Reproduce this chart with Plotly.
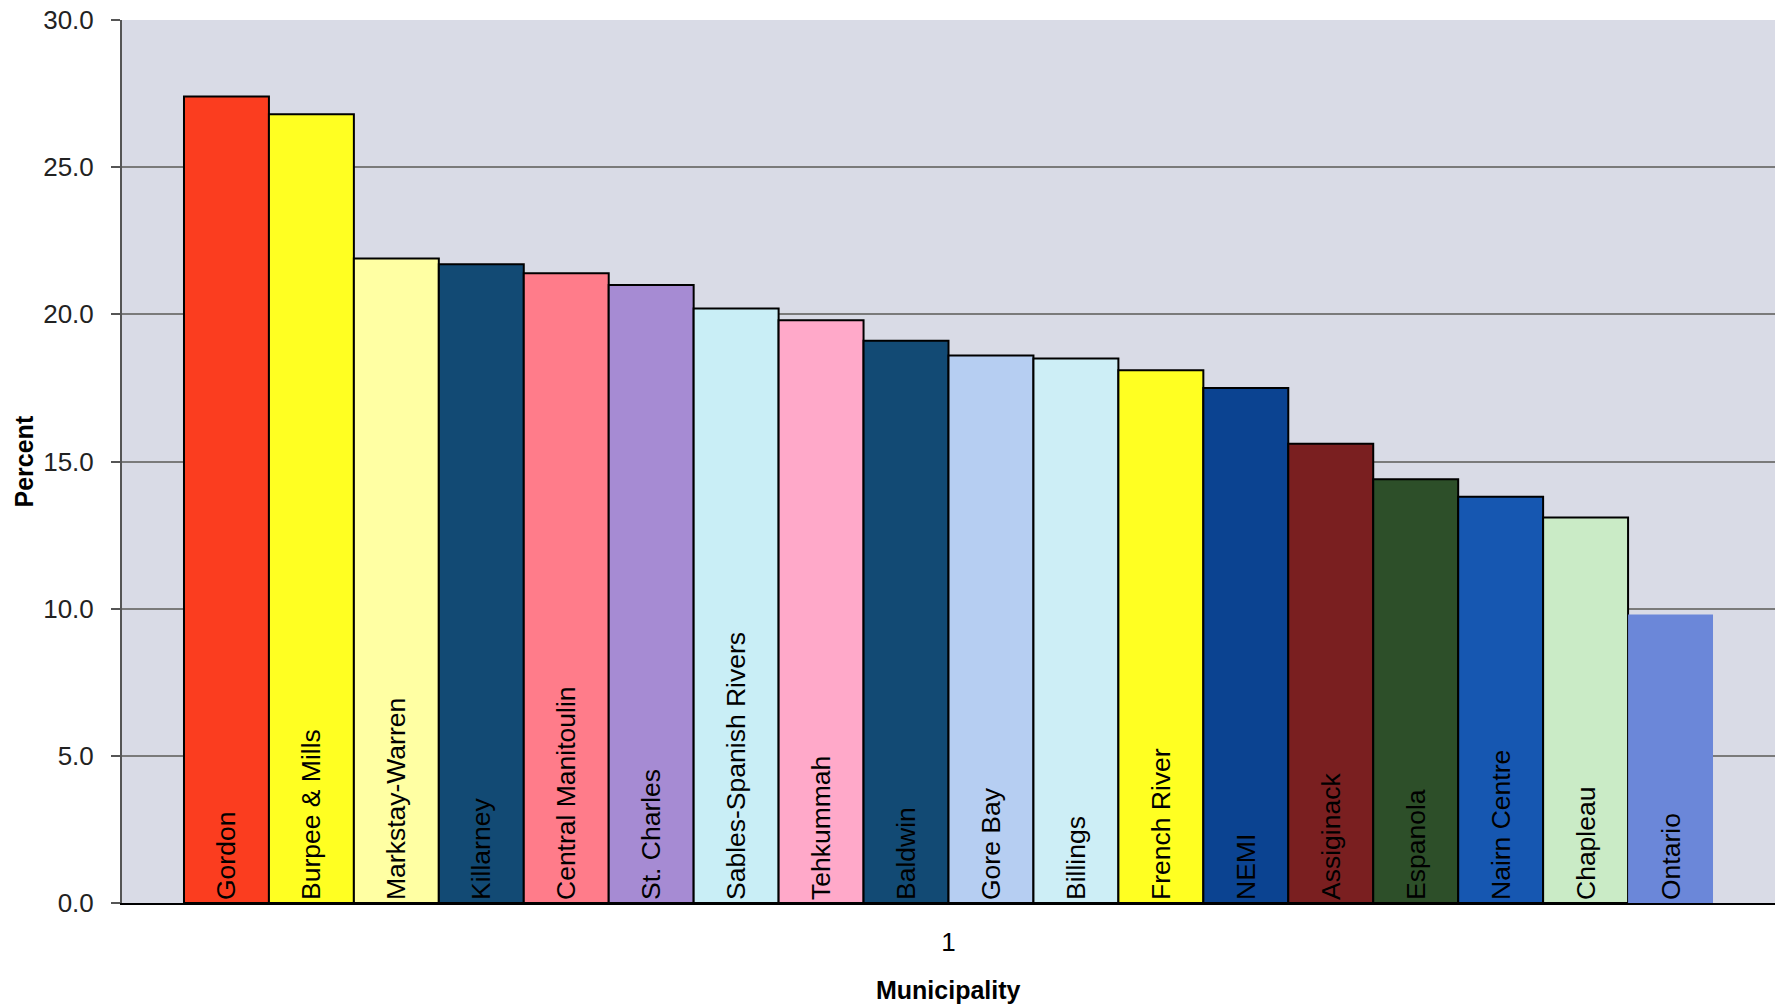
import plotly.graph_objects as go

municipalities = ["Gordon", "Burpee & Mills", "Markstay-Warren", "Killarney", "Central Manitoulin",
                  "St. Charles", "Sables-Spanish Rivers", "Tehkummah", "Baldwin", "Gore Bay",
                  "Billings", "French River", "NEMI", "Assiginack", "Espanola", "Nairn Centre",
                  "Chapleau", "Ontario"]
percent = [27.4, 26.8, 21.9, 21.7, 21.4, 21.0, 20.2, 19.8, 19.1, 18.6,
           18.5, 18.1, 17.5, 15.6, 14.4, 13.8, 13.1, 9.8]
colors = ["#FB3D1F", "#FFFF22", "#FFFFA3", "#124A74", "#FF7C8A", "#A68BD3", "#C9EEF6", "#FFA9C9",
          "#124A74", "#B6CEF2", "#CDEEF6", "#FFFF22", "#0B4391", "#7A1F20", "#2D4F29", "#1657B1",
          "#CAEBC6", "#6B87D9"]
category = ["1"]
y_ticks = [0, 5, 10, 15, 20, 25, 30]
y_tick_labels = ["0.0", "5.0", "10.0", "15.0", "20.0", "25.0", "30.0"]

fig = go.Figure()
for name, val, col in zip(municipalities, percent, colors):
    fig.add_trace(go.Bar(
        x=category, y=[val], name=name, marker_color=col,
        marker_line_color="black", marker_line_width=0 if name == "Ontario" else 2,
        text=[name], textposition="inside", insidetextanchor="start", textangle=-90,
        textfont=dict(family="Liberation Sans, Arial", size=26.5, color="black"),
        constraintext="none", showlegend=False, hoverinfo="y+name"))

W, H = 1777, 1008
L, R, T, B = 122, 2, 20, 105
fig.update_layout(
    width=W, height=H, barmode="group", bargap=0.075, bargroupgap=0,
    paper_bgcolor="white", plot_bgcolor="#D9DBE6",
    margin=dict(l=L, r=R, t=T, b=B),
    font=dict(family="Liberation Sans, Arial", color="black"),
    xaxis=dict(type="category", showgrid=False, showline=True, linecolor="black", linewidth=2,
               ticks="", tickfont=dict(size=26), ticklabelstandoff=15),
    yaxis=dict(range=[0, 30], tickvals=y_ticks, ticktext=y_tick_labels, showgrid=True,
               gridcolor="#7A7A7A", gridwidth=1.5, showline=True, linecolor="#555555", linewidth=2,
               ticks="outside", ticklen=9, tickcolor="#555555", tickwidth=1.5,
               tickfont=dict(size=26, color="#222222"), ticklabelstandoff=12, zeroline=False),
    annotations=[
        dict(text="<b>Percent</b>", xref="paper", yref="paper", x=(23 - L) / (W - L - R), y=0.5,
             xanchor="center", yanchor="middle", textangle=-90, showarrow=False,
             font=dict(size=25)),
        dict(text="<b>Municipality</b>", xref="paper", yref="paper", x=0.5,
             y=-(990 - (H - B)) / (H - T - B), xanchor="center", yanchor="middle",
             showarrow=False, font=dict(size=25)),
    ],
)
fig.write_html("out.html", config={"displayModeBar": False},
               post_script="document.body.style.margin='0';document.body.style.overflow='hidden';")
